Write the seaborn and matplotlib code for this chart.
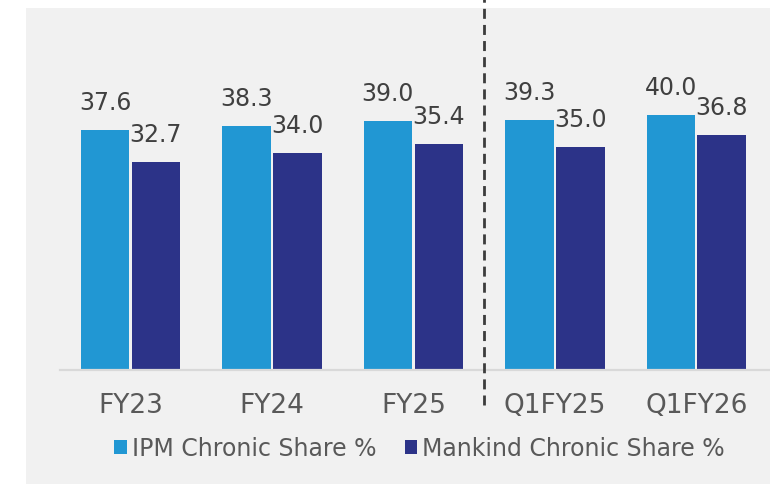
import matplotlib
matplotlib.use("Agg")
import matplotlib.pyplot as plt
from matplotlib.patches import Rectangle, Patch
import seaborn as sns
import pandas as pd

categories = ["FY23", "FY24", "FY25", "Q1FY25", "Q1FY26"]
ipm_share = [37.6, 38.3, 39.0, 39.3, 40.0]
mankind_share = [32.7, 34.0, 35.4, 35.0, 36.8]
series_names = ["IPM Chronic Share %", "Mankind Chronic Share %"]
colors = ["#2197D3", "#2C3388"]

df = pd.DataFrame({
    "period": categories * 2,
    "share": ipm_share + mankind_share,
    "series": [series_names[0]] * len(categories) + [series_names[1]] * len(categories),
})

sns.set_theme(style="white")
plt.rcParams["font.family"] = ["DejaVu Sans"]

W, H = 770, 485
fig = plt.figure(figsize=(W / 100, H / 100), dpi=100)
fig.patch.set_facecolor("white")
fig.patches.append(Rectangle((26 / W, 0), 1 - 26 / W, (H - 9) / H,
                             transform=fig.transFigure, facecolor="#F1F1F1",
                             edgecolor="none", zorder=-10))

ax = fig.add_axes([60 / W, (H - 371) / H, 710 / W, 362 / H])
ax.set_facecolor("none")
ax.set_zorder(1)

sns.barplot(data=df, x="period", y="share", hue="series", order=categories,
            hue_order=series_names, palette=colors, width=0.72, gap=0.045,
            saturation=1, legend=False, ax=ax, linewidth=0)

ax.set_ylim(0, 56.8)
ax.set_xlim(-0.498, 4.521)

for cont in ax.containers:
    ax.bar_label(cont, fmt="%.1f", padding=11.5, fontsize=17, color="#404040")

for s in ["top", "right", "left"]:
    ax.spines[s].set_visible(False)
ax.spines["bottom"].set_color("#D9D9D9")
ax.spines["bottom"].set_linewidth(1.6)
ax.set_yticks([])
ax.set_xlabel("")
ax.set_ylabel("")
ax.tick_params(axis="x", length=0, pad=16, labelsize=19, labelcolor="#595959")

# dashed separator between annual and quarterly periods
ax.plot([2.5, 2.5], [-5.5, 58.2], color="#3C3C3C", lw=2, dashes=(3.6, 2.2),
        clip_on=False, zorder=5)

handles = [Patch(facecolor=c, edgecolor="none") for c in colors]
fig.legend(handles, series_names, loc="center", bbox_to_anchor=(419.5 / W, (H - 449) / H),
           ncol=2, frameon=False, fontsize=17, labelcolor="#595959",
           handlelength=0.52, handleheight=0.52, handletextpad=0.22,
           columnspacing=1.2, borderpad=0)

fig.savefig("out.png", dpi=100, facecolor="white")
